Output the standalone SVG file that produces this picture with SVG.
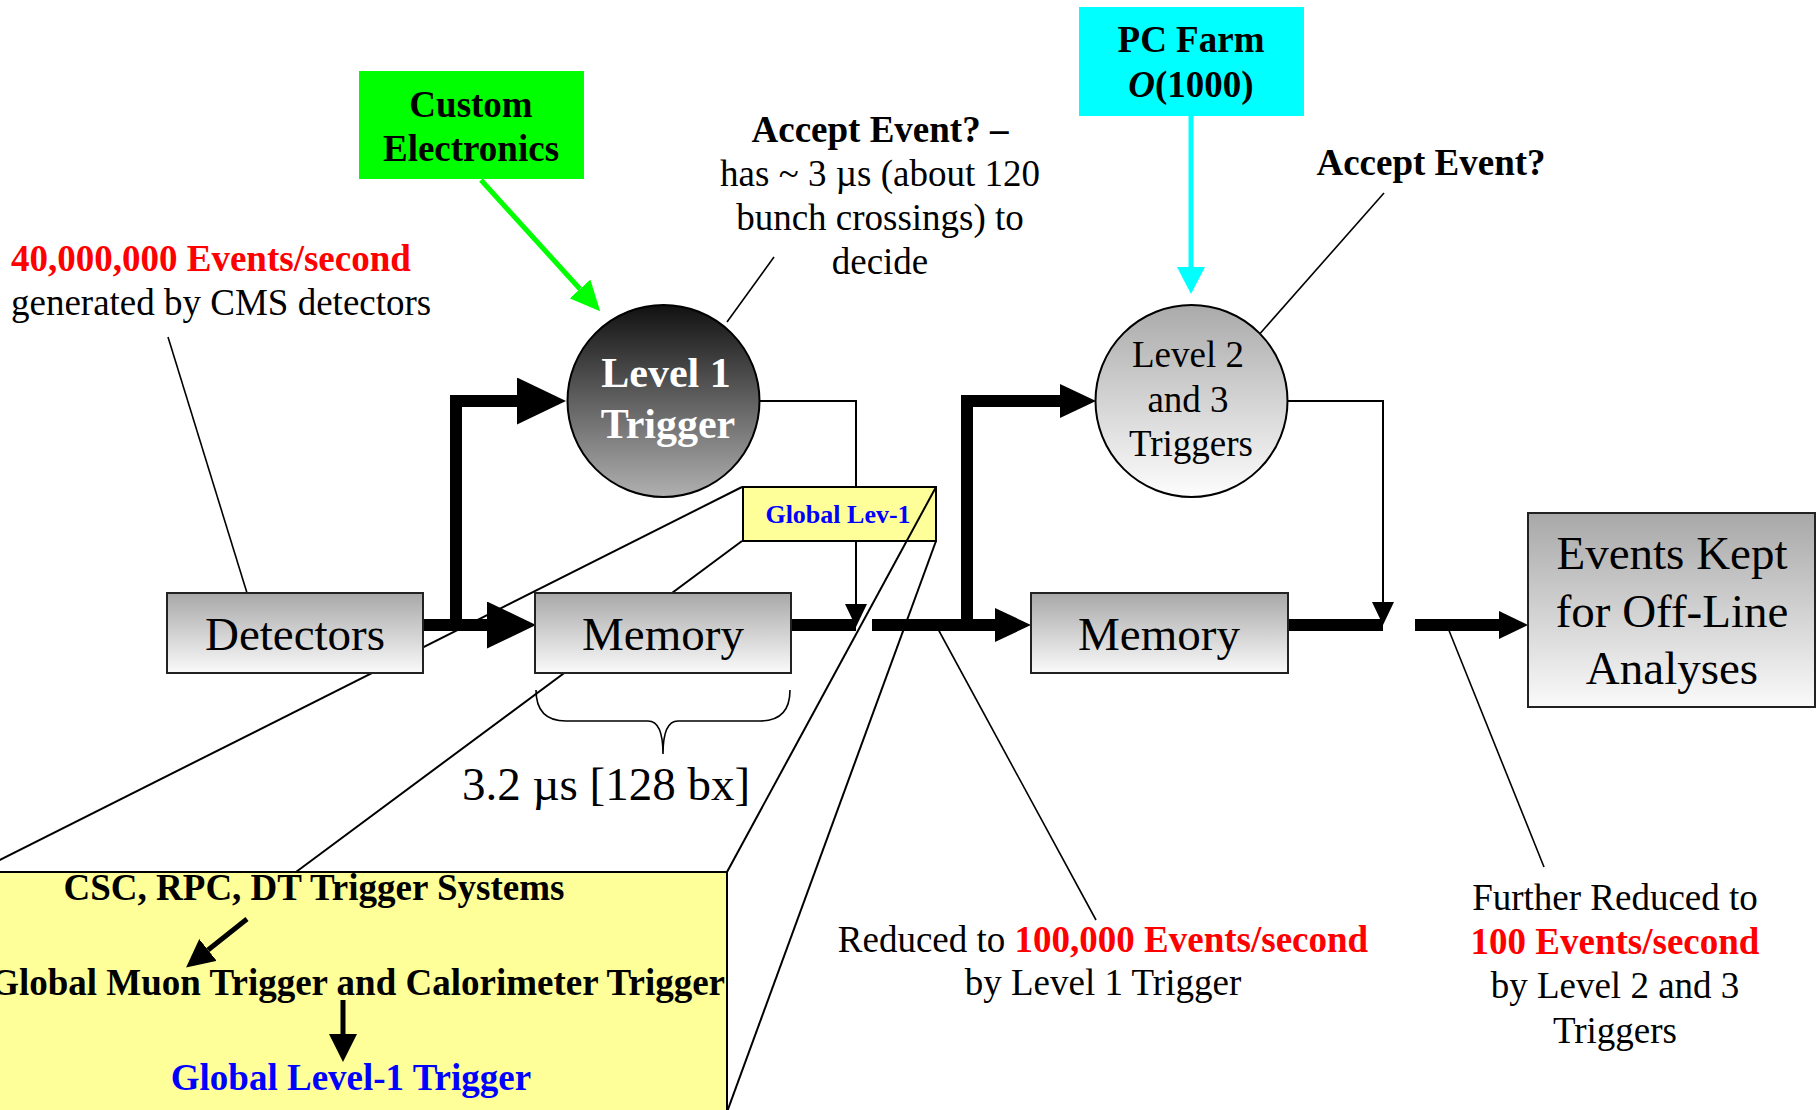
<svg xmlns="http://www.w3.org/2000/svg" width="1819" height="1110" viewBox="0 0 1819 1110">
<style>
text{font-family:"Liberation Serif","Times New Roman",serif;fill:#000}
.f37{font-size:37px}
.f47{font-size:47px}
.b{font-weight:bold}
.red{fill:#ff0000}
.blue{fill:#0000ff}
.mid{text-anchor:middle}
.box{stroke:#222;stroke-width:2}
.thick{fill:none;stroke:#000;stroke-width:12;stroke-linejoin:miter}
.thin{fill:none;stroke:#000;stroke-width:2}
.lead{fill:none;stroke:#000;stroke-width:1.6}
</style>
<defs>
<linearGradient id="gBox" x1="0" y1="0" x2="0" y2="1">
<stop offset="0" stop-color="#a8a8a8"/><stop offset="1" stop-color="#fafafa"/>
</linearGradient>
<linearGradient id="gL1" x1="0" y1="0" x2="0" y2="1">
<stop offset="0" stop-color="#111"/><stop offset="1" stop-color="#b0b0b0"/>
</linearGradient>
<linearGradient id="gL2" x1="0" y1="0" x2="0" y2="1">
<stop offset="0" stop-color="#aaa"/><stop offset="1" stop-color="#fdfdfd"/>
</linearGradient>
<marker id="bigHead" markerUnits="userSpaceOnUse" markerWidth="49" markerHeight="47" refX="0" refY="23.5" orient="auto"><path d="M0,0 L49,23.5 L0,47 z" fill="#000"/></marker>
<marker id="midHead" markerUnits="userSpaceOnUse" markerWidth="36" markerHeight="34" refX="0" refY="17" orient="auto"><path d="M0,0 L36,17 L0,34 z" fill="#000"/></marker>
<marker id="smallHead" markerUnits="userSpaceOnUse" markerWidth="29" markerHeight="28" refX="0" refY="14" orient="auto"><path d="M0,0 L29,14 L0,28 z" fill="#000"/></marker>
<marker id="thinHead" markerUnits="userSpaceOnUse" markerWidth="23" markerHeight="22" refX="0" refY="11" orient="auto"><path d="M0,0 L23,11 L0,22 z" fill="#000"/></marker>
<marker id="greenHead" markerUnits="userSpaceOnUse" markerWidth="30" markerHeight="28" refX="0" refY="14" orient="auto"><path d="M0,0 L30,14 L0,28 z" fill="#00ff00"/></marker>
<marker id="cyanHead" markerUnits="userSpaceOnUse" markerWidth="27" markerHeight="28" refX="0" refY="14" orient="auto"><path d="M0,0 L27,14 L0,28 z" fill="#00ffff"/></marker>
<marker id="blackHead" markerUnits="userSpaceOnUse" markerWidth="28" markerHeight="28" refX="0" refY="14" orient="auto"><path d="M0,0 L28,14 L0,28 z" fill="#000"/></marker>
</defs>
<rect x="0" y="0" width="1819" height="1110" fill="#fff"/>

<!-- zoom call-out (background part) -->
<g id="callout-back">
<rect x="-30" y="872" width="757" height="260" fill="#ffff99" stroke="#000" stroke-width="2"/>
<line x1="-24" y1="872" x2="742" y2="487" class="thin"/>
<line x1="296" y1="872" x2="742" y2="541" class="thin"/>
</g>

<g id="connectors">
<path class="thick" d="M423,625 H487" marker-end="url(#bigHead)"/>
<path class="thick" d="M456,631 V401 H517" marker-end="url(#bigHead)"/>
<path class="thick" d="M791,625 H856"/>
<path class="thin" d="M760,401 H856 V604" marker-end="url(#thinHead)"/>
<path class="thick" d="M872,625 H995" marker-end="url(#midHead)"/>
<path class="thick" d="M967,631 V401 H1060" marker-end="url(#midHead)"/>
<path class="thick" d="M1288,625 H1383"/>
<path class="thin" d="M1288,401 H1383 V602" marker-end="url(#thinHead)"/>
<path class="thick" d="M1415,625 H1499" marker-end="url(#smallHead)"/>
<path d="M481,180 L580,289" stroke="#00ff00" stroke-width="5" fill="none" marker-end="url(#greenHead)"/>
<path d="M1191,116 V267" stroke="#00ffff" stroke-width="5" fill="none" marker-end="url(#cyanHead)"/>
<line class="lead" x1="168" y1="337" x2="247" y2="593"/>
<line class="lead" x1="774" y1="257" x2="727" y2="322"/>
<line class="lead" x1="1384" y1="193" x2="1257" y2="337"/>
<line class="lead" x1="938" y1="629" x2="1096" y2="920"/>
<line class="lead" x1="1448" y1="628" x2="1544" y2="867"/>
</g>

<g id="custom-electronics">
<rect x="359" y="71" width="225" height="108" fill="#00ff00"/>
<text class="f37 b mid" x="471" y="117">Custom</text>
<text class="f37 b mid" x="471" y="161">Electronics</text>
</g>

<g id="pc-farm">
<rect x="1079" y="7" width="225" height="109" fill="#00ffff"/>
<text class="f37 b mid" x="1191" y="52">PC Farm</text>
<text class="f37 b mid" x="1191" y="97"><tspan font-style="italic">O</tspan>(1000)</text>
</g>

<g id="detectors">
<rect class="box" x="167" y="593" width="256" height="80" fill="url(#gBox)"/>
<text class="f47 mid" x="295" y="650">Detectors</text>
</g>

<g id="memory1">
<rect class="box" x="535" y="593" width="256" height="80" fill="url(#gBox)"/>
<text class="f47 mid" x="663" y="650">Memory</text>
</g>

<g id="level1">
<circle cx="663.5" cy="401" r="96" fill="url(#gL1)" stroke="#000" stroke-width="2"/>
<text class="b mid" style="font-size:42px;fill:#fff" x="666" y="387">Level 1</text>
<text class="b mid" style="font-size:42px;fill:#fff" x="668" y="438">Trigger</text>
</g>

<g id="memory2">
<rect class="box" x="1031" y="593" width="257" height="80" fill="url(#gBox)"/>
<text class="f47 mid" x="1159" y="650">Memory</text>
</g>

<g id="level23">
<circle cx="1191.5" cy="401" r="96" fill="url(#gL2)" stroke="#000" stroke-width="2"/>
<text class="f37 mid" x="1188" y="367">Level 2</text>
<text class="f37 mid" x="1188" y="412">and 3</text>
<text class="f37 mid" x="1191" y="456">Triggers</text>
</g>

<g id="events-kept">
<rect class="box" x="1528" y="513" width="287" height="194" fill="url(#gBox)"/>
<text class="f47 mid" x="1672" y="569">Events Kept</text>
<text class="f47 mid" x="1672" y="627">for Off-Line</text>
<text class="f47 mid" x="1672" y="684">Analyses</text>
</g>

<g id="global-lev1">
<rect x="743" y="487" width="193" height="54" fill="#ffff99" stroke="#000" stroke-width="2"/>
<text class="b blue mid" style="font-size:26px" x="838" y="523">Global Lev-1</text>
</g>

<g id="callout-front">
<line x1="727" y1="872" x2="936" y2="487" class="thin"/>
<line x1="727" y1="1112" x2="936" y2="541" class="thin"/>
<text class="f37 b mid" x="314" y="900">CSC, RPC, DT Trigger Systems</text>
<path d="M247,919 L208,950" stroke="#000" stroke-width="5" fill="none" marker-end="url(#blackHead)"/>
<text class="f37 b" x="725" y="995" text-anchor="end">Global Muon Trigger and Calorimeter Trigger</text>
<path d="M343,1000 V1034" stroke="#000" stroke-width="5" fill="none" marker-end="url(#blackHead)"/>
<text class="f37 b blue mid" x="351" y="1090">Global Level-1 Trigger</text>
</g>

<g id="labels">
<text class="f37 b red" x="11" y="271">40,000,000 Events/second</text>
<text class="f37" x="11" y="315">generated by CMS detectors</text>
<text class="f37 b mid" x="880" y="142">Accept Event? –</text>
<text class="f37 mid" x="880" y="186">has ~ 3 µs (about 120</text>
<text class="f37 mid" x="880" y="230">bunch crossings) to</text>
<text class="f37 mid" x="880" y="274">decide</text>
<text class="f37 b mid" x="1431" y="175">Accept Event?</text>
<path d="M536,690 Q536,721 566,721 H648 Q663,721 663,754 Q663,721 678,721 H760 Q790,721 790,690" fill="none" stroke="#000" stroke-width="1.6"/>
<text class="f47 mid" x="606" y="800">3.2 µs [128 bx]</text>
<text class="f37 mid" x="1103" y="952">Reduced to <tspan class="b red">100,000 Events/second</tspan></text>
<text class="f37 mid" x="1103" y="995">by Level 1 Trigger</text>
<text class="f37 mid" x="1615" y="910">Further Reduced to</text>
<text class="f37 b red mid" x="1615" y="954">100 Events/second</text>
<text class="f37 mid" x="1615" y="998">by Level 2 and 3</text>
<text class="f37 mid" x="1615" y="1043">Triggers</text>
</g>
</svg>
